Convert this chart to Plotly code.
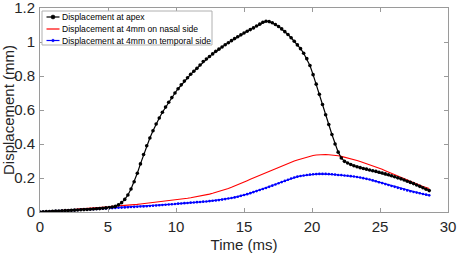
import plotly.graph_objects as go

# ---- data ----
frame_interval_ms = 0.2308
apex = [0.000, 0.001, 0.002, 0.003, 0.004, 0.005, 0.006, 0.007, 0.008, 0.009,
        0.010, 0.011, 0.012, 0.013, 0.014, 0.015, 0.016, 0.018, 0.019, 0.020,
        0.022, 0.024, 0.026, 0.029, 0.033, 0.042, 0.055, 0.074, 0.100, 0.135,
        0.178, 0.228, 0.283, 0.338, 0.390, 0.435, 0.478, 0.518, 0.553, 0.587,
        0.617, 0.646, 0.673, 0.700, 0.725, 0.748, 0.770, 0.790, 0.810, 0.828,
        0.845, 0.865, 0.885, 0.900, 0.915, 0.930, 0.945, 0.958, 0.971, 0.984,
        0.996, 1.008, 1.020, 1.031, 1.042, 1.053, 1.063, 1.073, 1.083, 1.094,
        1.105, 1.116, 1.122, 1.120, 1.113, 1.103, 1.091, 1.077, 1.061, 1.044,
        1.025, 1.004, 0.983, 0.961, 0.934, 0.902, 0.862, 0.808, 0.752, 0.692,
        0.632, 0.572, 0.515, 0.456, 0.400, 0.352, 0.318, 0.298, 0.288, 0.279,
        0.272, 0.266, 0.261, 0.256, 0.252, 0.247, 0.243, 0.239, 0.234, 0.229,
        0.224, 0.219, 0.213, 0.207, 0.201, 0.195, 0.188, 0.181, 0.174, 0.167,
        0.159, 0.151, 0.143, 0.134, 0.126]
nasal = [0.000, 0.001, 0.003, 0.004, 0.005, 0.007, 0.008, 0.010, 0.011, 0.012,
         0.014, 0.015, 0.017, 0.018, 0.019, 0.021, 0.022, 0.024, 0.025, 0.027,
         0.028, 0.030, 0.031, 0.033, 0.034, 0.035, 0.037, 0.038, 0.040, 0.041,
         0.043, 0.045, 0.047, 0.049, 0.051, 0.053, 0.055, 0.057, 0.059, 0.062,
         0.064, 0.066, 0.069, 0.071, 0.074, 0.076, 0.079, 0.081, 0.084, 0.087,
         0.090, 0.093, 0.097, 0.101, 0.105, 0.110, 0.115, 0.120, 0.126, 0.132,
         0.138, 0.145, 0.152, 0.160, 0.168, 0.176, 0.184, 0.192, 0.200, 0.208,
         0.216, 0.224, 0.232, 0.240, 0.248, 0.256, 0.264, 0.271, 0.279, 0.286,
         0.293, 0.300, 0.306, 0.312, 0.318, 0.323, 0.328, 0.332, 0.335, 0.337,
         0.338, 0.338, 0.337, 0.336, 0.334, 0.331, 0.327, 0.323, 0.319, 0.314,
         0.309, 0.303, 0.297, 0.291, 0.285, 0.279, 0.272, 0.265, 0.258, 0.251,
         0.243, 0.235, 0.227, 0.219, 0.211, 0.203, 0.196, 0.188, 0.180, 0.173,
         0.165, 0.157, 0.150, 0.144, 0.138]
temporal = [0.000, 0.001, 0.002, 0.003, 0.004, 0.005, 0.006, 0.007, 0.008, 0.009,
            0.010, 0.011, 0.012, 0.013, 0.014, 0.015, 0.016, 0.017, 0.018, 0.019,
            0.020, 0.021, 0.022, 0.023, 0.024, 0.025, 0.026, 0.027, 0.028, 0.029,
            0.030, 0.031, 0.032, 0.033, 0.034, 0.035, 0.037, 0.038, 0.040, 0.041,
            0.043, 0.044, 0.046, 0.047, 0.049, 0.050, 0.052, 0.053, 0.055, 0.056,
            0.058, 0.059, 0.061, 0.062, 0.064, 0.066, 0.068, 0.070, 0.073, 0.076,
            0.079, 0.082, 0.086, 0.090, 0.095, 0.100, 0.105, 0.111, 0.117, 0.123,
            0.129, 0.135, 0.141, 0.148, 0.155, 0.162, 0.169, 0.176, 0.183, 0.190,
            0.197, 0.203, 0.208, 0.212, 0.215, 0.218, 0.220, 0.222, 0.223, 0.224,
            0.224, 0.224, 0.223, 0.222, 0.220, 0.218, 0.217, 0.215, 0.213, 0.211,
            0.209, 0.206, 0.203, 0.199, 0.195, 0.191, 0.186, 0.181, 0.175, 0.170,
            0.164, 0.159, 0.153, 0.148, 0.142, 0.137, 0.132, 0.127, 0.122, 0.118,
            0.114, 0.110, 0.106, 0.102, 0.098]
time_ms = [i * frame_interval_ms for i in range(len(apex))]

legend_labels = ["Displacement at apex",
                 "Displacement at 4mm on nasal side",
                 "Displacement at 4mm on temporal side"]
x_ticks = [0, 5, 10, 15, 20, 25, 30]
y_ticks = [0, 0.2, 0.4, 0.6, 0.8, 1, 1.2]
y_tick_text = ["0", "0.2", "0.4", "0.6", "0.8", "1", "1.2"]

FONT = "Liberation Sans, Arial, sans-serif"
W, H = 457, 254
ML, MR, MT, MB = 40, 9, 8, 42
PW, PH = W - ML - MR, H - MT - MB


def px(xpix):
    return (xpix - ML) / PW


def py(ypix):
    return (H - MB - ypix) / PH


fig = go.Figure()
fig.add_trace(go.Scatter(x=time_ms, y=nasal, mode="lines",
                         line=dict(color="#ff0000", width=1.1), showlegend=False))
fig.add_trace(go.Scatter(x=time_ms, y=temporal, mode="lines+markers",
                         line=dict(color="#0000ff", width=1.1),
                         marker=dict(color="#0000ff", size=2.6), showlegend=False))
fig.add_trace(go.Scatter(x=time_ms, y=apex, mode="lines+markers",
                         line=dict(color="#000000", width=1.2),
                         marker=dict(color="#000000", size=3.6), showlegend=False))

axis_common = dict(showgrid=False, zeroline=False, showline=True, linecolor="#9a9a9a",
                   linewidth=1, mirror="allticks", ticks="inside", ticklen=4,
                   tickcolor="#9a9a9a", automargin=False, ticklabeloverflow="allow",
                   tickfont=dict(family=FONT, size=15, color="#262626"))
fig.update_xaxes(range=[0, 30], tickvals=x_ticks, ticktext=[str(v) for v in x_ticks],
                 title=dict(text="Time (ms)", font=dict(family=FONT, size=15, color="#262626"),
                            standoff=5),
                 ticklabelstandoff=1, **axis_common)
fig.update_yaxes(range=[0, 1.2], tickvals=y_ticks, ticktext=y_tick_text,
                 title=dict(text="Displacement (mm)", font=dict(family=FONT, size=15, color="#262626"),
                            standoff=0),
                 ticklabelstandoff=1, **axis_common)

# ---- custom legend (MATLAB style) ----
shapes = [dict(type="rect", xref="paper", yref="paper",
               x0=px(42), x1=px(212), y0=py(11), y1=py(45),
               line=dict(color="#b0b0b0", width=1), fillcolor="white", layer="above")]
annotations = []
row_y = [17, 29, 40.5]
colors = ["#000000", "#ff0000", "#0000ff"]
msize = [2.0, 0, 1.3]
for lab, ry, c, ms in zip(legend_labels, row_y, colors, msize):
    shapes.append(dict(type="line", xref="paper", yref="paper",
                       x0=px(46.5), x1=px(59.5), y0=py(ry), y1=py(ry),
                       line=dict(color=c, width=1.2), layer="above"))
    if ms > 0:
        shapes.append(dict(type="circle", xref="paper", yref="paper",
                           x0=px(53 - ms), x1=px(53 + ms), y0=py(ry + ms), y1=py(ry - ms),
                           line=dict(color=c, width=0.5), fillcolor=c, layer="above"))
    annotations.append(dict(xref="paper", yref="paper", x=px(60), y=py(ry),
                            xanchor="left", yanchor="middle", showarrow=False,
                            text=lab, font=dict(family=FONT, size=8.6, color="#000000")))

fig.update_layout(width=W, height=H, margin=dict(l=ML, r=MR, t=MT, b=MB),
                  paper_bgcolor="white", plot_bgcolor="white",
                  shapes=shapes, annotations=annotations,
                  font=dict(family=FONT))
fig.write_html("out.html", config={"displayModeBar": False},
               post_script="document.body.style.margin='0';document.body.style.overflow='hidden';")
